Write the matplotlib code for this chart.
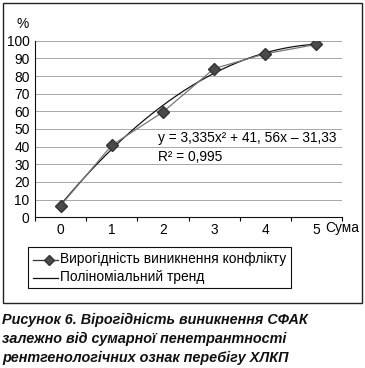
import numpy as np
import matplotlib.pyplot as plt
from matplotlib.patches import Rectangle
from matplotlib.lines import Line2D

plt.rcParams['font.family'] = ['Liberation Sans', 'DejaVu Sans']

# data
categories = ['0', '1', '2', '3', '4', '5']
probability = [6.6, 40.8, 59.6, 84.2, 92.6, 97.9]
y_ticks = [0, 10, 20, 30, 40, 50, 60, 70, 80, 90, 100]

W, H = 365, 368
FS = 9.9
fig = plt.figure(figsize=(W / 100, H / 100), dpi=100)

def fx(px):
    return px / W

def fy(py):
    return 1 - py / H

# outer frame
fig.patches.append(Rectangle((fx(3), fy(303)), fx(359), 300 / H, transform=fig.transFigure,
                             fill=False, edgecolor='#222222', linewidth=1.0))

ax = fig.add_axes([fx(35), fy(217.3), fx(342 - 35), (217.3 - 40.7) / H])
x = np.arange(len(categories))

# quadratic trend fitted to the data (Excel numbers the categories from 1)
coef = np.polyfit(x + 1, probability, 2)
xs = np.linspace(0, 5, 200)
ax.plot(xs, np.polyval(coef, xs + 1), color='#111111', linewidth=0.9, zorder=3)

ax.plot(x, probability, color='#777777', linewidth=0.9, marker='D', markersize=6.5,
        markerfacecolor='#4a4a4a', markeredgecolor='#333333', zorder=4)

ax.set_xlim(-0.5, 5.5)
ax.set_ylim(0, 100)
ax.set_yticks(y_ticks)
ax.set_xticks(x)
ax.set_xticklabels(categories)
ax.set_xticks(np.arange(-0.5, 5.6, 1), minor=True)
ax.tick_params(axis='x', which='major', length=0, pad=4, labelsize=FS)
ax.tick_params(axis='x', which='minor', length=3, direction='out', width=0.8)
ax.tick_params(axis='y', length=0, pad=4, labelsize=FS)
ax.grid(axis='y', color='#9a9a9a', linewidth=0.6)
ax.set_axisbelow(True)
for side in ['top', 'right']:
    ax.spines[side].set_visible(False)
for side in ['left', 'bottom']:
    ax.spines[side].set_linewidth(0.8)
    ax.spines[side].set_color('#111111')

fig.text(fx(23), fy(24), '%', fontsize=FS, ha='center', va='center')
fig.text(fx(325), fy(228), 'Сума', fontsize=FS, ha='left', va='center')

ax.text(1.9, 44.9, 'y = 3,335x² + 41, 56x – 31,33', fontsize=FS, ha='left', va='center')
ax.text(1.9, 34.1, 'R² = 0,995', fontsize=FS, ha='left', va='center')

# legend box
fig.patches.append(Rectangle((fx(28), fy(288)), fx(263), 41 / H, transform=fig.transFigure,
                             fill=False, edgecolor='#111111', linewidth=0.8))
fig.lines.append(Line2D([fx(33), fx(49), fx(58)], [fy(259.5)] * 3, transform=fig.transFigure,
                        color='#333333', linewidth=0.9, marker='D', markevery=[1],
                        markersize=5, markerfacecolor='#4a4a4a', markeredgecolor='#333333'))
fig.lines.append(Line2D([fx(33), fx(58)], [fy(277.5), fy(277.5)], transform=fig.transFigure,
                        color='#111111', linewidth=0.9))
fig.text(fx(60), fy(259.5), 'Вирогідність виникнення конфлікту', fontsize=FS, va='center')
fig.text(fx(60), fy(277.5), 'Поліноміальний тренд', fontsize=FS, va='center')

caption = ['Рисунок 6. Вірогідність виникнення СФАК',
           'залежно від сумарної пенетрантності',
           'рентгенологічних ознак перебігу ХЛКП']
for i, line in enumerate(caption):
    fig.text(fx(2), fy(320 + i * 19), line, fontsize=10.4, fontweight='bold',
             fontstyle='italic', va='center', color='#111111')

fig.savefig('out.png', dpi=100)
